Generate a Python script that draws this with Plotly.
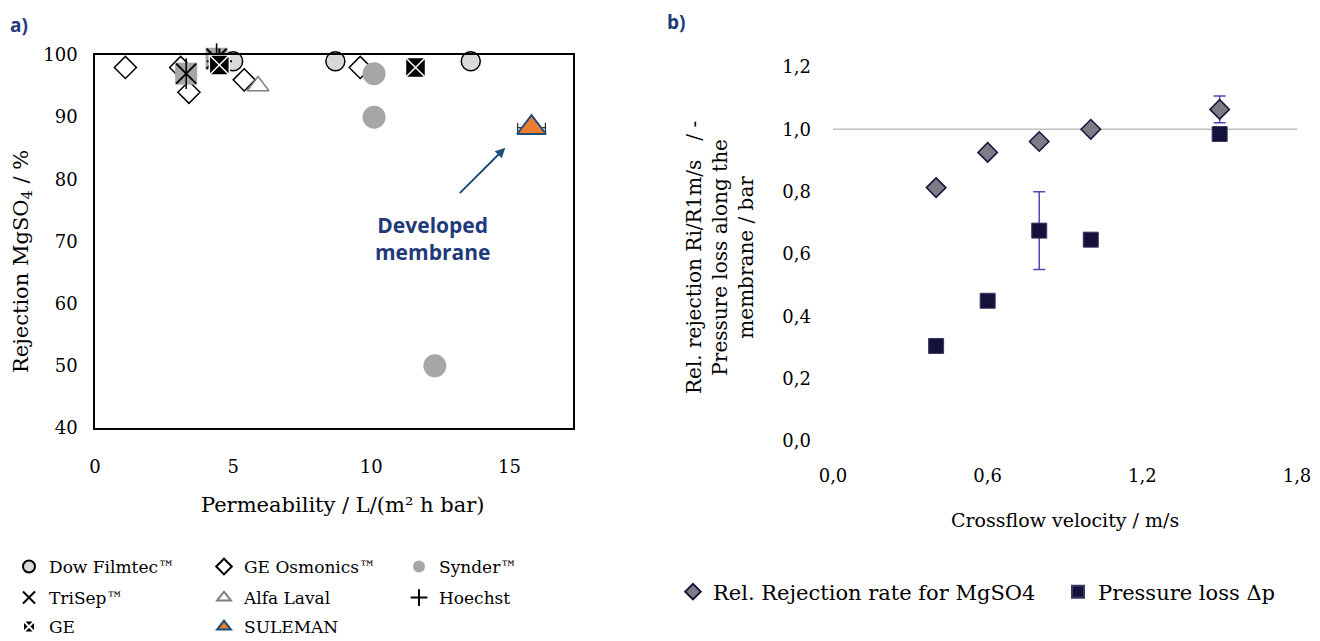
import plotly.graph_objects as go

# ---------------- Panel a: commercial NF membranes ----------------
dow_perm = [5.0, 8.7, 13.6]
dow_rej = [99, 99, 99]
osmonics_perm = [1.1, 3.1, 3.4, 5.4, 9.6]
osmonics_rej = [98, 98, 94, 96, 98]
synder_perm = [10.1, 10.1, 12.3]
synder_rej = [97, 90, 50]
trisep_perm = [3.3, 4.4]
trisep_rej = [97, 99.4]
alfa_perm = [5.9]
alfa_rej = [95]
hoechst_perm = [4.5]
hoechst_rej = [99]
ge_perm = [4.5, 11.6]
ge_rej = [98.4, 98]
suleman_perm = [15.8]
suleman_rej = [88.3]
suleman_perm_err = [0.5]

# ---------------- Panel b: crossflow study ----------------
velocity = [0.4, 0.6, 0.8, 1.0, 1.5]
rel_rejection = [0.813, 0.926, 0.961, 1.0, 1.064]
rel_rejection_err = [0, 0, 0, 0, 0.043]
pressure_loss = [0.305, 0.45, 0.675, 0.646, 0.985]
pressure_loss_err = [0, 0, 0.125, 0, 0]
reference_level = 1.0

W, H = 1320, 641
SERIF = "DejaVu Serif"
NAVY = "#1f3a7a"


def px(x):
    return x / W


def py(y):
    return 1 - y / H


fig = go.Figure()

common_a = dict(mode="markers", xaxis="x", yaxis="y", cliponaxis=False)

fig.add_trace(go.Scatter(
    x=dow_perm, y=dow_rej, name="Dow Filmtec™", legend="legend",
    marker=dict(symbol="circle", size=19, color="#d9d9d9",
                line=dict(color="black", width=1.5)), **common_a))
fig.add_trace(go.Scatter(
    x=osmonics_perm, y=osmonics_rej, name="GE Osmonics™", legend="legend",
    marker=dict(symbol="diamond", size=17, color="white",
                line=dict(color="black", width=1.5)), **common_a))
fig.add_trace(go.Scatter(
    x=synder_perm, y=synder_rej, name="Synder™", legend="legend",
    marker=dict(symbol="circle", size=23, color="#a6a6a6",
                line=dict(width=0)), **common_a))
# TriSep: grey square with a black star on top
fig.add_trace(go.Scatter(
    x=trisep_perm, y=trisep_rej, legendgroup="trisep", showlegend=False,
    legend="legend2",
    marker=dict(symbol="square", size=22, color="#a6a6a6",
                line=dict(width=0)), **common_a))
fig.add_trace(go.Scatter(
    x=trisep_perm, y=trisep_rej, legendgroup="trisep", showlegend=False,
    legend="legend2",
    marker=dict(symbol="line-ns-open", size=22, color="black",
                line=dict(color="black", width=1.5)), **common_a))
fig.add_trace(go.Scatter(
    x=trisep_perm, y=trisep_rej, name="TriSep™", legend="legend2",
    legendgroup="trisep",
    marker=dict(symbol="x-thin-open", size=20, color="black",
                line=dict(color="black", width=2)), **common_a))
fig.add_trace(go.Scatter(
    x=alfa_perm, y=alfa_rej, name="Alfa Laval", legend="legend2",
    marker=dict(symbol="triangle-up-open", size=19, color="#7f7f7f",
                line=dict(color="#7f7f7f", width=1.5)), **common_a))
fig.add_trace(go.Scatter(
    x=hoechst_perm, y=hoechst_rej, name="Hoechst", legend="legend2",
    marker=dict(symbol="cross-thin-open", size=18, color="black",
                line=dict(color="black", width=2)), **common_a))
fig.add_trace(go.Scatter(
    x=ge_perm, y=ge_rej, name="GE", legend="legend3",
    marker=dict(symbol="square-x", size=20, color="black",
                line=dict(color="white", width=1.5)), **common_a))
fig.add_trace(go.Scatter(
    x=suleman_perm, y=suleman_rej, name="SULEMAN", legend="legend3",
    error_x=dict(type="data", array=suleman_perm_err, color="black",
                 thickness=1, width=5),
    marker=dict(symbol="triangle-up", size=25, color="#ed7d31",
                line=dict(color="#1f4e79", width=2)), **common_a))

# Panel b traces
fig.add_trace(go.Scatter(
    x=velocity, y=rel_rejection, name="Rel. Rejection rate for MgSO4",
    legend="legend4", mode="markers", xaxis="x2", yaxis="y2", cliponaxis=False,
    error_y=dict(type="data", array=rel_rejection_err, color="#4e47b5",
                 thickness=1.5, width=6),
    marker=dict(symbol="diamond", size=15, color="#7c7c88",
                line=dict(color="#16143a", width=1.5))))
fig.add_trace(go.Scatter(
    x=velocity, y=pressure_loss, name="Pressure loss Δp",
    legend="legend5", mode="markers", xaxis="x2", yaxis="y2", cliponaxis=False,
    error_y=dict(type="data", array=pressure_loss_err, color="#4e47b5",
                 thickness=1.5, width=6),
    marker=dict(symbol="square", size=15, color="#14123b",
                line=dict(color="#3a3860", width=1))))

tickfont = dict(family=SERIF, size=18, color="black")


def leg(x, y, ew, size):
    return dict(orientation="h", x=x, y=y, xanchor="left", yanchor="middle",
                font=dict(family=SERIF, size=size, color="black"),
                entrywidth=ew, entrywidthmode="pixels", traceorder="normal",
                bgcolor="rgba(0,0,0,0)", itemsizing="constant",
                tracegroupgap=0, itemclick=False)


fig.update_layout(
    width=W, height=H,
    margin=dict(l=0, r=0, t=0, b=0, autoexpand=False),
    paper_bgcolor="white", plot_bgcolor="white",
    separators=",.",
    font=dict(family=SERIF, size=18, color="black"),
    showlegend=True,
    xaxis=dict(domain=[px(95), px(573)], range=[0, 17.3], dtick=5, tick0=0,
               anchor="y", showgrid=False, zeroline=False, showline=True,
               mirror=True, linecolor="black", linewidth=1.5, ticks="",
               tickfont=tickfont, ticklabelstandoff=22),
    yaxis=dict(domain=[py(428), py(55)], range=[40, 100], dtick=10,
               anchor="x", showgrid=False, zeroline=False, showline=True,
               mirror=True, linecolor="black", linewidth=1.5, ticks="",
               tickfont=tickfont, ticklabelstandoff=12),
    xaxis2=dict(domain=[px(833), px(1297)], range=[0, 1.8], dtick=0.6,
                tick0=0, tickformat=".1f", anchor="y2", showgrid=False,
                zeroline=False, showline=False, ticks="", tickfont=tickfont,
                ticklabelstandoff=22),
    yaxis2=dict(domain=[py(441), py(67)], range=[0, 1.2], dtick=0.2,
                tick0=0, tickformat=".1f", anchor="x2", showgrid=False,
                zeroline=False, showline=False, ticks="", tickfont=tickfont,
                ticklabelstandoff=21),
    legend=leg(px(9), py(567), 150, 17),
    legend2=leg(px(9), py(598), 150, 17),
    legend3=leg(px(9), py(627), 150, 17),
    legend4=leg(px(673), py(592), 0, 21),
    legend5=leg(px(1058), py(592), 0, 21),
)

# horizontal reference line at relative rejection = 1
fig.add_shape(type="line", xref="x2 domain", yref="y2", x0=0, x1=1,
              y0=reference_level, y1=reference_level,
              line=dict(color="#bfbfbf", width=1.5), layer="below")

ann = []
ann.append(dict(text="<b>a)</b>", x=px(8), y=py(25), xanchor="left",
                font=dict(family="Open Sans", size=19, color=NAVY)))
ann.append(dict(text="<b>b)</b>", x=px(665), y=py(22), xanchor="left",
                font=dict(family="Open Sans", size=19, color=NAVY)))
ann.append(dict(text="Permeability / L/(m² h bar)", x=px(342), y=py(505),
                font=dict(family=SERIF, size=21)))
ann.append(dict(text="Rejection MgSO<sub>4</sub> / %", x=px(22), y=py(262),
                textangle=-90, font=dict(family=SERIF, size=21)))
ann.append(dict(text="Crossflow velocity / m/s", x=px(1065), y=py(520),
                font=dict(family=SERIF, size=19)))
ann.append(dict(text="Rel. rejection Ri/R1m/s\u00a0\u00a0 / -<br>"
                     "Pressure loss along the<br>membrane / bar",
                x=px(720), y=py(258), textangle=-90,
                font=dict(family=SERIF, size=20)))
ann.append(dict(text="<b>Developed<br>membrane</b>", x=px(432), y=py(239),
                font=dict(family="Open Sans", size=21, color=NAVY)))
for a in ann:
    a.update(xref="paper", yref="paper", showarrow=False)
    a.setdefault("xanchor", "center")
    a.setdefault("yanchor", "middle")

# arrow pointing at the developed membrane
ann.append(dict(x=14.85, y=85.1, xref="x", yref="y", ax=-47, ay=47,
                showarrow=True, arrowhead=2, arrowsize=1, arrowwidth=2,
                arrowcolor="#1f4e79", text=""))

fig.update_layout(annotations=ann)

fig.write_html("out.html")
